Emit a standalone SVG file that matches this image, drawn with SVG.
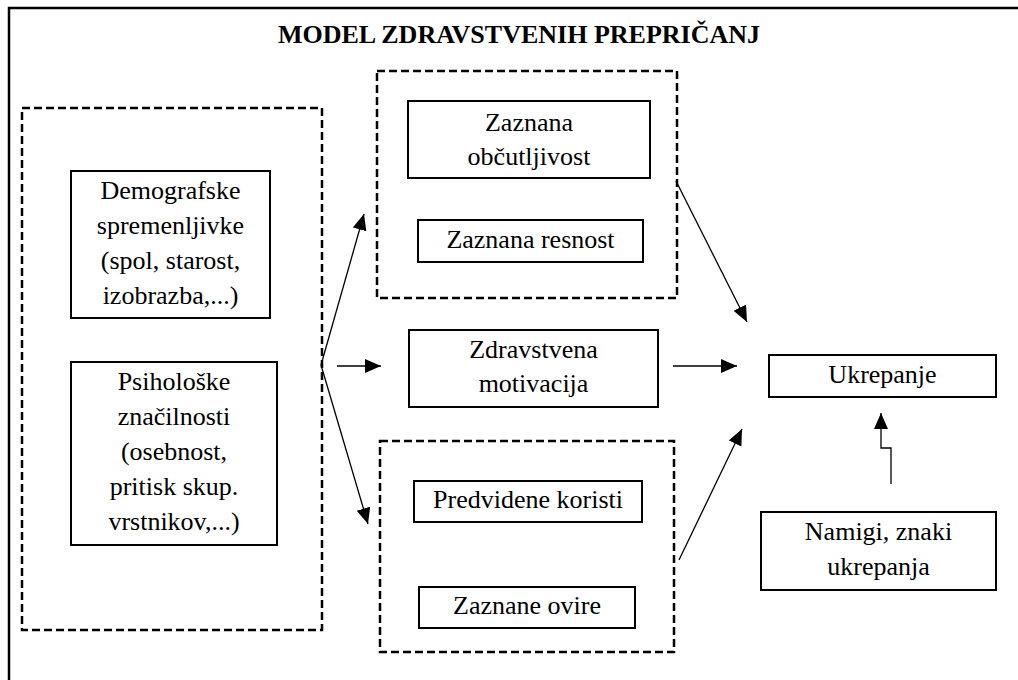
<svg xmlns="http://www.w3.org/2000/svg" width="1018" height="680" viewBox="0 0 1018 680">
<style>
.box{fill:#fff;stroke:#000;stroke-width:2}
.dash{fill:none;stroke:#000;stroke-width:2.5;stroke-dasharray:8,4}
.t{font-family:"Liberation Serif","Times New Roman",serif;font-size:26px;fill:#000;text-anchor:middle}
.title{font-weight:bold}
.c{fill:none;stroke:#000;stroke-width:1.3}
</style>
<defs>
<marker id="ah" markerUnits="userSpaceOnUse" markerWidth="17" markerHeight="15" refX="16" refY="7" orient="auto">
<path d="M0,0 L16,7 L0,14 z" fill="#000"/>
</marker>
</defs>
<rect x="0" y="0" width="1018" height="680" fill="#fff"/>
<rect x="9" y="8" width="1030" height="700" fill="none" stroke="#000" stroke-width="2.5"/>
<text class="t title" x="519" y="43">MODEL ZDRAVSTVENIH PREPRIČANJ</text>

<g id="group-left">
<rect class="dash" x="22" y="108" width="300" height="522"/>
</g>
<g id="group-top">
<rect class="dash" x="377" y="71" width="300" height="227"/>
</g>
<g id="group-bottom">
<rect class="dash" x="380" y="441" width="294" height="211"/>
</g>

<g id="demografske">
<rect class="box" x="71" y="171" width="199" height="147"/>
<text class="t" x="170.5" y="199">Demografske</text>
<text class="t" x="170.5" y="234">spremenljivke</text>
<text class="t" x="170.5" y="269">(spol, starost,</text>
<text class="t" x="170.5" y="304">izobrazba,...)</text>
</g>
<g id="psiholoske">
<rect class="box" x="71" y="362" width="206" height="183"/>
<text class="t" x="174" y="390">Psihološke</text>
<text class="t" x="174" y="425">značilnosti</text>
<text class="t" x="174" y="460">(osebnost,</text>
<text class="t" x="174" y="495">pritisk skup.</text>
<text class="t" x="174" y="530">vrstnikov,...)</text>
</g>
<g id="obcutljivost">
<rect class="box" x="408" y="101" width="242" height="77"/>
<text class="t" x="529" y="131">Zaznana</text>
<text class="t" x="529" y="165">občutljivost</text>
</g>
<g id="resnost">
<rect class="box" x="418" y="220" width="225" height="42"/>
<text class="t" x="530.5" y="248">Zaznana resnost</text>
</g>
<g id="motivacija">
<rect class="box" x="409" y="330" width="249" height="77"/>
<text class="t" x="533.5" y="358">Zdravstvena</text>
<text class="t" x="533.5" y="392">motivacija</text>
</g>
<g id="koristi">
<rect class="box" x="414" y="481" width="228" height="41"/>
<text class="t" x="528" y="508">Predvidene koristi</text>
</g>
<g id="ovire">
<rect class="box" x="419" y="587" width="216" height="41"/>
<text class="t" x="527" y="614">Zaznane ovire</text>
</g>
<g id="ukrepanje">
<rect class="box" x="769" y="355" width="227" height="42"/>
<text class="t" x="882.5" y="383">Ukrepanje</text>
</g>
<g id="namigi">
<rect class="box" x="761" y="512" width="235" height="78"/>
<text class="t" x="878.5" y="540">Namigi, znaki</text>
<text class="t" x="878.5" y="575">ukrepanja</text>
</g>

<g id="connectors">
<line class="c" x1="321" y1="365" x2="364" y2="214" marker-end="url(#ah)"/>
<line class="c" x1="337" y1="366" x2="381" y2="366" marker-end="url(#ah)"/>
<line class="c" x1="321" y1="365" x2="368" y2="524" marker-end="url(#ah)"/>
<line class="c" x1="676" y1="181" x2="747" y2="322" marker-end="url(#ah)"/>
<line class="c" x1="673" y1="366" x2="737" y2="366" marker-end="url(#ah)"/>
<line class="c" x1="679" y1="560" x2="742" y2="429" marker-end="url(#ah)"/>
<polyline class="c" points="891,484 891,448 881,448 881,413" marker-end="url(#ah)"/>
</g>
</svg>
